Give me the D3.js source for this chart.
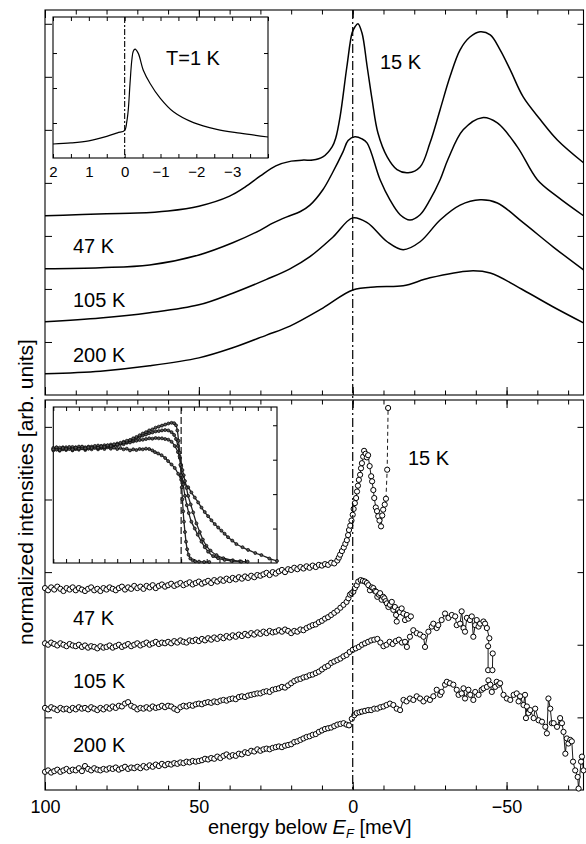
<!DOCTYPE html>
<html><head><meta charset="utf-8">
<script src="https://cdn.jsdelivr.net/npm/d3@7"></script>
<style>body{margin:0;background:#fff}svg{display:block}text{font-family:"Liberation Sans",Arial,Helvetica,sans-serif;fill:#000}</style>
</head><body><svg id="c" width="586" height="844"></svg>
<script>
// ---------------- DATA ----------------
const tempLabels = ["15 K","47 K","105 K","200 K"];
const xMajor = [100,50,0,-50];
const xMajorLabels = ["100","50","0","\u221250"];
const xMinor = [100,90,80,70,60,50,40,30,20,10,0,-10,-20,-30,-40,-50,-60,-70];
const yTopTicks = [1,2,3,4,5,6,7];
const yBotTicks = [1,2,3,4,5];
const in1Major = [2,1,0,-1,-2,-3];
const in1MajorLabels = ["2","1","0","\u22121","\u22122","\u22123"];
const in1Minor = [2,1.5,1,0.5,0,-0.5,-1,-1.5,-2,-2.5,-3,-3.5,-4];
const in1YTicks = [1,2,3];
const in2XTicks = [10,9,8,7,6,5,4,3,2,1,0,-1,-2,-3,-4,-5,-6,-7];
const in2YTicks = [1,2,3,4];

// top panel: model curves [energy meV, intensity]
const top15 = [[100,3.38],[90,3.40],[80,3.42],[70,3.43],[60,3.47],[50,3.56],[40,3.75],[35,3.92],[30,4.13],[25,4.32],[20,4.41],[16,4.43],[13,4.43],[9.7,4.49],[6.7,4.68],[5.5,4.85],[4.1,5.25],[1.9,6.19],[0.2,6.83],[-0.7,6.94],[-1.7,7.0],[-3.0,6.83],[-4.7,6.19],[-6.3,5.57],[-8.2,4.94],[-11.2,4.49],[-14.4,4.25],[-18.0,4.19],[-21.9,4.30],[-25.1,4.75],[-28.4,5.38],[-31.6,6.0],[-34.9,6.51],[-38.1,6.75],[-41.4,6.85],[-44.7,6.79],[-47.9,6.51],[-51.2,6.13],[-55.4,5.62],[-61.0,5.19],[-66.5,4.81],[-75,4.38]];
const top47 = [[100,2.38],[82,2.40],[66,2.45],[50,2.64],[39,2.87],[30,3.11],[26,3.24],[21.4,3.36],[17,3.46],[13.9,3.58],[9.7,3.87],[6.4,4.21],[3.2,4.58],[1.5,4.80],[-0.7,4.87],[-3.0,4.83],[-4.7,4.75],[-8.9,4.06],[-12.1,3.68],[-15.4,3.40],[-18.6,3.30],[-21.9,3.40],[-25.1,3.68],[-28.4,4.06],[-31,4.45],[-35.9,5.0],[-42.1,5.23],[-47,5.13],[-53.5,4.68],[-60,4.06],[-66.5,3.74],[-75,3.38]];
const top105 = [[100,1.38],[82,1.45],[66,1.55],[50,1.70],[39,1.92],[28,2.18],[20.4,2.38],[13.9,2.61],[6.4,2.98],[0,3.34],[-4.7,3.25],[-11.2,2.89],[-16.4,2.74],[-21.9,2.89],[-28.4,3.30],[-34.9,3.58],[-41.4,3.68],[-47,3.62],[-55.4,3.25],[-65.2,2.79],[-75,2.36]];
const top200 = [[100,0.40],[82,0.45],[66,0.55],[50,0.70],[39,0.89],[28,1.13],[20.4,1.30],[9.7,1.64],[0,1.98],[-7.9,2.04],[-16.4,2.06],[-25.1,2.21],[-38.1,2.34],[-44.7,2.30],[-55.4,1.98],[-65.2,1.66],[-75,1.36]];
// top inset, T = 1 K
const inset1 = [[2,0.40],[1.5,0.43],[1,0.49],[0.5,0.62],[0.2,0.72],[0,0.79],[-0.06,1.04],[-0.1,1.37],[-0.15,2.14],[-0.2,2.8],[-0.24,3.05],[-0.29,3.11],[-0.38,2.99],[-0.52,2.51],[-0.71,2.13],[-0.99,1.71],[-1.36,1.32],[-1.92,1.01],[-2.57,0.82],[-3.22,0.71],[-4,0.60]];

// bottom panel: measured spectra
const gridE = [100,99,98,97,96,95,94,93,92,91,90,89,88,87,86,85,84,83,82,81,80,79,78,77,76,75,74,73,72,71,70,69,68,67,66,65,64,63,62,61,60,59,58,57,56,55,54,53,52,51,50,49,48,47,46,45,44,43,42,41,40,39,38,37,36,35,34,33,32,31,30,29,28,27,26,25,24,23,22,21];
const b15Grid = [2.78,2.75,2.79,2.76,2.80,2.77,2.74,2.78,2.76,2.79, 2.75,2.78,2.76,2.74,2.77,2.79,2.75,2.77,2.74,2.78, 2.76,2.79,2.77,2.75,2.78,2.80,2.76,2.79,2.77,2.81, 2.78,2.80,2.77,2.81,2.79,2.82,2.78,2.81,2.83,2.80, 2.82,2.84,2.81,2.83,2.85,2.82,2.84,2.86,2.83,2.85, 2.87,2.84,2.86,2.88,2.85,2.89,2.87,2.90,2.88,2.91, 2.89,2.92,2.90,2.93,2.91,2.94,2.92,2.95,2.93,2.96, 2.95,2.97,2.99,2.96,3.00,2.98,3.01,3.03,3.00,3.04];
const b15Tail = [[20,3.03],[19,3.06],[18,3.04],[17,3.07],[16,3.05],[15,3.08],[14,3.06],[13,3.09],[12,3.07],[11,3.10],[10,3.09],[9,3.11],[8,3.10],[7,3.13],[6,3.12],[5,3.16],[4.5,3.20],[4.1,3.24],[3.5,3.29],[2.9,3.34],[2.4,3.39],[1.9,3.44],[1.5,3.51],[1.2,3.58],[0.8,3.64],[0.4,3.71],[0.0,3.79],[-0.3,3.87],[-0.7,3.95],[-1.1,4.02],[-1.4,4.11],[-1.7,4.19],[-2.0,4.27],[-2.4,4.34],[-2.7,4.43],[-3.0,4.50],[-3.4,4.59],[-3.7,4.67],[-4.2,4.63],[-4.6,4.58],[-5.0,4.61],[-5.5,4.46],[-6.0,4.32],[-6.3,4.25],[-6.7,4.13],[-7.0,4.02],[-7.5,3.89],[-7.9,3.84],[-8.3,3.77],[-8.7,3.71],[-9.2,3.63],[-9.6,3.78],[-9.9,3.86],[-10.4,3.93],[-10.8,4.01],[-11.2,4.41],[-11.5,5.26]];
const b47Grid = [2.02,2.00,2.03,2.01,1.99,2.02,2.00,1.98,2.01,1.99, 1.98,2.00,1.97,1.99,1.96,1.98,1.97,1.95,1.98,1.96, 1.97,1.99,1.96,1.98,2.00,1.97,1.99,2.01,1.98,2.00, 2.02,1.99,2.01,2.03,2.00,2.02,2.04,2.01,2.03,2.02, 2.04,2.02,2.05,2.03,2.06,2.04,2.03,2.06,2.05,2.07, 2.05,2.08,2.06,2.09,2.07,2.10,2.08,2.11,2.09,2.12, 2.10,2.13,2.11,2.14,2.12,2.15,2.13,2.16,2.14,2.17, 2.15,2.18,2.16,2.19,2.17,2.18,2.20,2.18,2.21,2.19];
const b47Tail = [[20,2.16],[19,2.19],[18,2.18],[17,2.21],[16,2.20],[15,2.23],[14,2.25],[13,2.27],[12,2.28],[11,2.31],[10,2.33],[9,2.36],[8,2.38],[7,2.41],[6,2.44],[5,2.47],[4,2.51],[3,2.55],[2,2.59],[1.4,2.64],[0.9,2.69],[0.4,2.71],[-0.2,2.73],[-0.7,2.78],[-1.3,2.82],[-1.8,2.87],[-2.6,2.89],[-3.3,2.88],[-4.0,2.87],[-4.6,2.85],[-5.1,2.82],[-5.6,2.75],[-6.2,2.79],[-6.7,2.78],[-7.2,2.74],[-7.6,2.73],[-8.0,2.66],[-8.5,2.69],[-8.9,2.71],[-9.4,2.62],[-9.9,2.66],[-10.3,2.64],[-10.7,2.60],[-11.1,2.57],[-11.6,2.52],[-12.1,2.55],[-12.7,2.59],[-13.2,2.48],[-13.7,2.52],[-14.1,2.41],[-14.3,2.32],[-14.8,2.48],[-15.3,2.45],[-15.9,2.50],[-16.5,2.43],[-17.0,2.34],[-17.6,2.41],[-18.1,2.36],[-18.9,2.39]];
const b105Grid = [1.13,1.11,1.14,1.12,1.10,1.13,1.11,1.12,1.10,1.13, 1.11,1.14,1.12,1.13,1.11,1.14,1.12,1.10,1.13,1.11, 1.14,1.12,1.15,1.13,1.16,1.15,1.19,1.21,1.16,1.14, 1.11,1.13,1.12,1.14,1.12,1.15,1.13,1.14,1.16,1.14, 1.16,1.15,1.12,1.10,1.14,1.16,1.15,1.17,1.16,1.18, 1.19,1.18,1.20,1.21,1.20,1.22,1.21,1.23,1.24,1.23, 1.25,1.26,1.25,1.28,1.29,1.28,1.30,1.31,1.32,1.33, 1.33,1.35,1.36,1.35,1.38,1.39,1.40,1.42,1.41,1.44];
const b105Tail = [[20,1.47],[19,1.50],[18,1.52],[17,1.53],[16,1.55],[15,1.56],[14,1.58],[13,1.59],[12,1.61],[11,1.63],[10,1.66],[9,1.69],[8,1.71],[7,1.75],[6,1.77],[5,1.79],[4,1.81],[3,1.84],[2,1.86],[1,1.90],[0,1.93],[-1,1.95],[-2,1.97],[-3,2.00],[-4,2.02],[-5,2.04],[-6,2.06],[-7,2.07],[-8,2.08],[-9,2.03],[-10,1.98],[-11,2.00],[-12,2.04],[-13,2.01],[-14,2.05],[-15,2.07],[-16,2.03],[-17,2.04],[-17.6,1.97],[-18.6,2.11],[-19.7,2.20],[-20.8,2.16],[-21.9,2.14],[-23.0,2.11],[-23.5,1.97],[-24.6,2.18],[-25.7,2.25],[-26.2,2.29],[-27.3,2.23],[-27.8,2.27],[-28.9,2.34],[-30.0,2.43],[-31.1,2.37],[-32.2,2.41],[-33.3,2.39],[-33.8,2.27],[-34.9,2.29],[-35.4,2.46],[-36.0,2.23],[-36.5,2.18],[-37.1,2.37],[-38.1,2.34],[-38.7,2.39],[-39.2,2.11],[-39.8,2.27],[-40.3,2.34],[-40.9,2.25],[-41.4,2.29],[-42.5,2.32],[-43.0,2.29],[-43.6,2.23],[-44.4,2.09],[-44.0,1.98],[-44.0,1.65],[-45.4,1.65],[-45.5,1.88]];
const b200Grid = [0.25,0.27,0.24,0.26,0.28,0.25,0.27,0.29,0.26,0.28, 0.27,0.30,0.26,0.33,0.29,0.27,0.30,0.28,0.27,0.29, 0.28,0.30,0.29,0.31,0.28,0.30,0.32,0.29,0.31,0.30, 0.32,0.30,0.33,0.31,0.34,0.32,0.35,0.33,0.36,0.34, 0.36,0.35,0.37,0.36,0.38,0.37,0.39,0.38,0.40,0.39, 0.40,0.41,0.43,0.42,0.44,0.43,0.46,0.44,0.47,0.49, 0.46,0.48,0.47,0.50,0.49,0.52,0.51,0.54,0.53,0.56, 0.54,0.56,0.57,0.56,0.58,0.59,0.60,0.59,0.61,0.62];
const b200Tail = [[20,0.63],[19,0.66],[18,0.67],[17,0.69],[16,0.71],[15,0.73],[14,0.74],[13,0.76],[12,0.77],[11,0.80],[10,0.82],[9,0.84],[8,0.85],[7,0.86],[6,0.88],[5,0.90],[4,0.91],[3,0.92],[2,0.90],[1.2,0.89],[0.3,0.98],[-0.5,1.03],[-1.3,1.06],[-2.2,1.07],[-3,1.08],[-4,1.09],[-5,1.10],[-6,1.10],[-7,1.12],[-8,1.12],[-9,1.14],[-10,1.15],[-11,1.17],[-12.1,1.19],[-13.2,1.17],[-14.3,1.12],[-15.4,1.10],[-16.5,1.24],[-17.5,1.22],[-18.6,1.26],[-19.7,1.24],[-20.8,1.29],[-21.9,1.26],[-23.0,1.22],[-24.1,1.26],[-25.1,1.24],[-26.2,1.29],[-27.3,1.38],[-28.4,1.31],[-28.9,1.35],[-30.0,1.45],[-30.6,1.49],[-31.6,1.47],[-32.7,1.45],[-33.8,1.38],[-34.4,1.31],[-35.4,1.33],[-36.0,1.40],[-36.5,1.26],[-37.6,1.38],[-38.2,1.31],[-39.2,1.24],[-39.8,1.35],[-40.9,1.31],[-41.9,1.38],[-42.5,1.40],[-43.6,1.42],[-44.1,1.51],[-44.7,1.45],[-45.2,1.35],[-46.3,1.42],[-46.8,1.49],[-47.4,1.45],[-47.9,1.47],[-49.0,1.31],[-50.1,1.26],[-51.2,1.24],[-52.3,1.31],[-53.3,1.33],[-53.9,1.22],[-54.4,1.29],[-55.5,1.17],[-56.0,1.31],[-56.3,0.99],[-56.6,1.15],[-57.1,1.06],[-57.7,1.10],[-58.8,0.99],[-59.3,1.12],[-60.4,0.96],[-61.5,0.94],[-62.6,0.87],[-63.1,0.78],[-63.6,1.26],[-64.2,1.12],[-64.7,0.92],[-65.3,0.92],[-66.4,0.87],[-67.4,0.99],[-68.0,0.92],[-68.5,0.80],[-69.1,0.50],[-69.6,0.71],[-70.1,0.64],[-70.7,0.69],[-71.2,0.67],[-71.6,0.39],[-72.3,0.27],[-73.1,0.18],[-73.4,0.02],[-74.2,0.39],[-74.5,0.46],[-75,0.27]];

// bottom inset: Fermi edges
const inA = [[10,3.30],[9.75,3.36],[9.5,3.28],[9.25,3.34],[9,3.31],[8.75,3.37],[8.5,3.30],[8.25,3.35],[8,3.32],[7.75,3.38],[7.5,3.33],[7.25,3.36],[7,3.34],[6.75,3.40],[6.5,3.35],[6.25,3.39],[6,3.37],[5.75,3.42],[5.5,3.40],[5.25,3.45],[5,3.44],[4.75,3.49],[4.5,3.50],[4.25,3.55],[4,3.57],[3.75,3.62],[3.5,3.66],[3.25,3.71],[3,3.76],[2.75,3.80],[2.5,3.85],[2.25,3.88],[2,3.93],[1.75,3.96],[1.5,3.99],[1.25,4.02],[1,4.05],[0.75,4.07],[0.55,4.06],[0.4,4.0],[0.3,3.85],[0.2,3.55],[0.12,3.2],[0.06,2.85],[0,2.55],[-0.05,2.2],[-0.1,1.85],[-0.16,1.5],[-0.22,1.2],[-0.3,0.9],[-0.38,0.62],[-0.47,0.4],[-0.58,0.24],[-0.72,0.13],[-0.9,0.08],[-1.1,0.05],[-1.4,0.04],[-1.8,0.03],[-2.2,0.03]];
const inB = [[10,3.34],[9.75,3.29],[9.5,3.35],[9.25,3.30],[9,3.36],[8.75,3.31],[8.5,3.37],[8.25,3.32],[8,3.38],[7.75,3.33],[7.5,3.36],[7.25,3.32],[7,3.38],[6.75,3.35],[6.5,3.41],[6.25,3.36],[6,3.42],[5.75,3.39],[5.5,3.44],[5.25,3.42],[5,3.47],[4.75,3.46],[4.5,3.52],[4.25,3.51],[4,3.56],[3.75,3.58],[3.5,3.63],[3.25,3.66],[3,3.70],[2.75,3.73],[2.5,3.77],[2.25,3.79],[2,3.82],[1.75,3.83],[1.5,3.85],[1.25,3.86],[1,3.85],[0.75,3.80],[0.55,3.72],[0.4,3.6],[0.25,3.4],[0.12,3.1],[0,2.8],[-0.08,2.5],[-0.16,2.28],[-0.3,1.95],[-0.45,1.68],[-0.6,1.45],[-0.8,1.2],[-1.07,1.0],[-1.3,0.82],[-1.59,0.62],[-1.85,0.46],[-2.11,0.33],[-2.5,0.2],[-2.89,0.14],[-3.4,0.09],[-3.94,0.06],[-4.7,0.04]];
const inC = [[10,3.31],[9.75,3.35],[9.5,3.30],[9.25,3.36],[9,3.32],[8.75,3.34],[8.5,3.29],[8.25,3.36],[8,3.33],[7.75,3.37],[7.5,3.31],[7.25,3.38],[7,3.35],[6.75,3.37],[6.5,3.33],[6.25,3.40],[6,3.36],[5.75,3.41],[5.5,3.38],[5.25,3.43],[5,3.41],[4.75,3.46],[4.5,3.45],[4.25,3.49],[4,3.50],[3.75,3.53],[3.5,3.55],[3.25,3.57],[3,3.58],[2.75,3.60],[2.5,3.62],[2.25,3.61],[2,3.63],[1.75,3.62],[1.5,3.62],[1.25,3.60],[1.0,3.58],[0.75,3.52],[0.5,3.40],[0.25,3.22],[0.1,3.05],[0,2.85],[-0.1,2.7],[-0.2,2.55],[-0.3,2.38],[-0.42,2.18],[-0.55,1.95],[-0.75,1.7],[-0.94,1.47],[-1.2,1.15],[-1.46,0.9],[-1.7,0.68],[-1.98,0.5],[-2.3,0.36],[-2.77,0.23],[-3.3,0.14],[-4.04,0.08],[-4.6,0.05],[-5.2,0.04]];
const inD = [[10,3.27],[9.75,3.31],[9.5,3.26],[9.25,3.32],[9,3.28],[8.75,3.33],[8.5,3.27],[8.25,3.31],[8,3.29],[7.75,3.34],[7.5,3.28],[7.25,3.33],[7,3.30],[6.75,3.35],[6.5,3.30],[6.25,3.34],[6,3.31],[5.75,3.36],[5.5,3.32],[5.25,3.35],[5,3.31],[4.75,3.34],[4.5,3.30],[4.25,3.32],[4,3.27],[3.75,3.30],[3.5,3.28],[3.25,3.31],[3,3.30],[2.75,3.32],[2.5,3.31],[2.25,3.27],[2.05,3.22],[1.8,3.18],[1.53,3.13],[1.25,3.05],[1.02,2.96],[0.75,2.86],[0.5,2.76],[0.23,2.59],[0,2.42],[-0.25,2.32],[-0.55,2.20],[-0.8,2.05],[-1.07,1.90],[-1.33,1.76],[-1.59,1.61],[-1.85,1.48],[-2.11,1.36],[-2.37,1.24],[-2.63,1.13],[-2.9,1.03],[-3.15,0.94],[-3.4,0.85],[-3.67,0.75],[-4.0,0.65],[-4.32,0.55],[-4.8,0.46],[-5.24,0.38],[-5.8,0.29],[-6.28,0.23],[-6.9,0.13],[-7.5,0.06]];

// ---------------- CHART ----------------
const svg = d3.select("#c");
const L = 45, R = 583.5;
const x = d3.scaleLinear().domain([100,-75]).range([L,R]);
const yTop = d3.scaleLinear().domain([0,7.26]).range([395,10]);
const yBot = d3.scaleLinear().domain([0,5.37]).range([790,400]);
const xIn1 = d3.scaleLinear().domain([2,-4]).range([53,268]);
const yIn1 = d3.scaleLinear().domain([0,4.03]).range([158,17]);
const xIn2 = d3.scaleLinear().domain([10,-7.5]).range([53.3,277]);
const yIn2 = d3.scaleLinear().domain([0,4.53]).range([563,407]);

function axisG(axis, tx, ty){
  const g = svg.append("g").attr("transform",`translate(${tx},${ty})`).call(axis);
  g.select(".domain").remove();
  g.selectAll("line").attr("stroke","#000").attr("stroke-width",1);
  return g;
}
function frame(x0,y0,x1,y1,fill){
  svg.append("rect").attr("x",x0).attr("y",y0).attr("width",x1-x0).attr("height",y1-y0)
    .attr("fill",fill||"none").attr("stroke","#000").attr("stroke-width",1.1);
}
function label(t,xx,yy,size,anchor){
  return svg.append("text").attr("x",xx).attr("y",yy).attr("font-size",size).attr("text-anchor",anchor||"start").text(t);
}

// ---- top panel
frame(L,10,R,395);
axisG(d3.axisTop(x).tickValues(xMinor).tickSize(-4.5).tickFormat(""),0,10);
axisG(d3.axisTop(x).tickValues(xMajor).tickSize(-8).tickFormat(""),0,10);
axisG(d3.axisBottom(x).tickValues(xMinor).tickSize(-4.5).tickFormat(""),0,395);
axisG(d3.axisBottom(x).tickValues(xMajor).tickSize(-8).tickFormat(""),0,395);
axisG(d3.axisLeft(yTop).tickValues(yTopTicks).tickSize(-7).tickFormat(""),L,0);
axisG(d3.axisRight(yTop).tickValues(yTopTicks).tickSize(-6).tickFormat(""),R,0);

const lineTop = d3.line().x(d=>x(d[0])).y(d=>yTop(d[1])).curve(d3.curveCatmullRom.alpha(0.5));
[top15,top47,top105,top200].forEach(s=>{
  svg.append("path").datum(s).attr("d",lineTop).attr("fill","none").attr("stroke","#000").attr("stroke-width",1.5);
});
label(tempLabels[0],380,69,20);
label(tempLabels[1],73,253,20);
label(tempLabels[2],73,307,20);
label(tempLabels[3],73,362,20);

// top inset
frame(53,17,268,158,"#fff");
axisG(d3.axisTop(xIn1).tickValues(in1Minor).tickSize(-4).tickFormat(""),0,17);
axisG(d3.axisBottom(xIn1).tickValues(in1Minor).tickSize(-4).tickFormat(""),0,158);
axisG(d3.axisLeft(yIn1).tickValues(in1YTicks).tickSize(-4).tickFormat(""),53,0);
axisG(d3.axisRight(yIn1).tickValues(in1YTicks).tickSize(-4).tickFormat(""),268,0);
svg.append("line").attr("x1",xIn1(0)).attr("x2",xIn1(0)).attr("y1",17).attr("y2",158)
  .attr("stroke","#000").attr("stroke-width",1.1).attr("stroke-dasharray","6,2,2,2");
const lineIn1 = d3.line().x(d=>xIn1(d[0])).y(d=>yIn1(d[1])).curve(d3.curveCatmullRom.alpha(0.5));
svg.append("path").datum(inset1).attr("d",lineIn1).attr("fill","none").attr("stroke","#000").attr("stroke-width",1.2);
const in1Lab = axisG(d3.axisBottom(xIn1).tickValues(in1Major).tickSize(0).tickPadding(8).tickFormat((d,i)=>in1MajorLabels[i]),0,158);
in1Lab.selectAll("text").attr("font-size",15).attr("font-family","Liberation Sans, Arial, sans-serif").attr("fill","#000");
label("T=1 K",166,65,20);

// ---- bottom panel
frame(L,400,R,790);
axisG(d3.axisTop(x).tickValues(xMinor).tickSize(-4.5).tickFormat(""),0,400);
axisG(d3.axisTop(x).tickValues(xMajor).tickSize(-8).tickFormat(""),0,400);
axisG(d3.axisBottom(x).tickValues(xMinor).tickSize(-4.5).tickFormat(""),0,790);
axisG(d3.axisBottom(x).tickValues(xMajor).tickSize(-8).tickFormat(""),0,790);
axisG(d3.axisLeft(yBot).tickValues(yBotTicks).tickSize(-7).tickFormat(""),L,0);
axisG(d3.axisRight(yBot).tickValues(yBotTicks).tickSize(-6).tickFormat(""),R,0);

const lineBot = d3.line().x(d=>x(d[0])).y(d=>yBot(d[1]));
const series = [
  gridE.map((e,i)=>[e,b200Grid[i]]).concat(b200Tail),
  gridE.map((e,i)=>[e,b105Grid[i]]).concat(b105Tail),
  gridE.map((e,i)=>[e,b47Grid[i]]).concat(b47Tail),
  gridE.map((e,i)=>[e,b15Grid[i]]).concat(b15Tail)
];
series.forEach((s,k)=>{
  const dashed = (k===3);
  const solid = dashed ? s.slice(0,s.length-2) : s;
  svg.append("path").datum(solid).attr("d",lineBot).attr("fill","none").attr("stroke","#000").attr("stroke-width",0.9);
  if(dashed){
    svg.append("path").datum(s.slice(s.length-3)).attr("d",lineBot).attr("fill","none")
      .attr("stroke","#000").attr("stroke-width",0.9).attr("stroke-dasharray","4,3");
  }
  svg.append("g").selectAll("circle").data(s).join("circle")
    .attr("cx",d=>x(d[0])).attr("cy",d=>yBot(d[1])).attr("r",2.6)
    .attr("fill","#fff").attr("stroke","#000").attr("stroke-width",1);
});
label(tempLabels[0],408,465,20);
label(tempLabels[1],73,625,20);
label(tempLabels[2],73,688,20);
label(tempLabels[3],73,752,20);

// bottom inset
frame(53.3,407,277,563,"#fff");
axisG(d3.axisTop(xIn2).tickValues(in2XTicks).tickSize(-4).tickFormat(""),0,407);
axisG(d3.axisBottom(xIn2).tickValues(in2XTicks).tickSize(-4).tickFormat(""),0,563);
axisG(d3.axisRight(yIn2).tickValues(in2YTicks).tickSize(-4).tickFormat(""),277,0);
svg.append("line").attr("x1",xIn2(0)).attr("x2",xIn2(0)).attr("y1",407).attr("y2",563)
  .attr("stroke","#000").attr("stroke-width",1.1).attr("stroke-dasharray","7,3");
const lineIn2 = d3.line().x(d=>xIn2(d[0])).y(d=>yIn2(d[1])).curve(d3.curveCatmullRom.alpha(0.5));
[inD,inC,inB,inA].forEach(s=>{
  svg.append("path").datum(s).attr("d",lineIn2).attr("fill","none").attr("stroke","#222").attr("stroke-width",1.3);
  svg.append("g").selectAll("circle").data(s).join("circle")
    .attr("cx",d=>xIn2(d[0])).attr("cy",d=>yIn2(d[1])).attr("r",1.5)
    .attr("fill","#555").attr("stroke","#000").attr("stroke-width",0.7);
});

// E_F reference line through both panels
svg.append("line").attr("x1",x(0)).attr("x2",x(0)).attr("y1",10).attr("y2",790)
  .attr("stroke","#000").attr("stroke-width",1.2).attr("stroke-dasharray","9,3,2,3");

// x tick labels
const xl = axisG(d3.axisBottom(x).tickValues(xMajor).tickSize(0).tickPadding(10).tickFormat((d,i)=>xMajorLabels[i]),0,790);
xl.selectAll("text").attr("font-size",18).attr("font-family","Liberation Sans, Arial, sans-serif").attr("fill","#000");

// axis titles
const xt = svg.append("text").attr("x",208).attr("y",834).attr("font-size",20);
xt.append("tspan").text("energy below ");
xt.append("tspan").attr("font-style","italic").text("E");
xt.append("tspan").attr("font-style","italic").attr("font-size",13).attr("dy",4).text("F");
xt.append("tspan").attr("dy",-4).text(" [meV]");
svg.append("text").attr("transform","translate(33,492) rotate(-90)").attr("text-anchor","middle")
  .attr("font-size",21).text("normalized intensities [arb. units]");
</script></body></html>
